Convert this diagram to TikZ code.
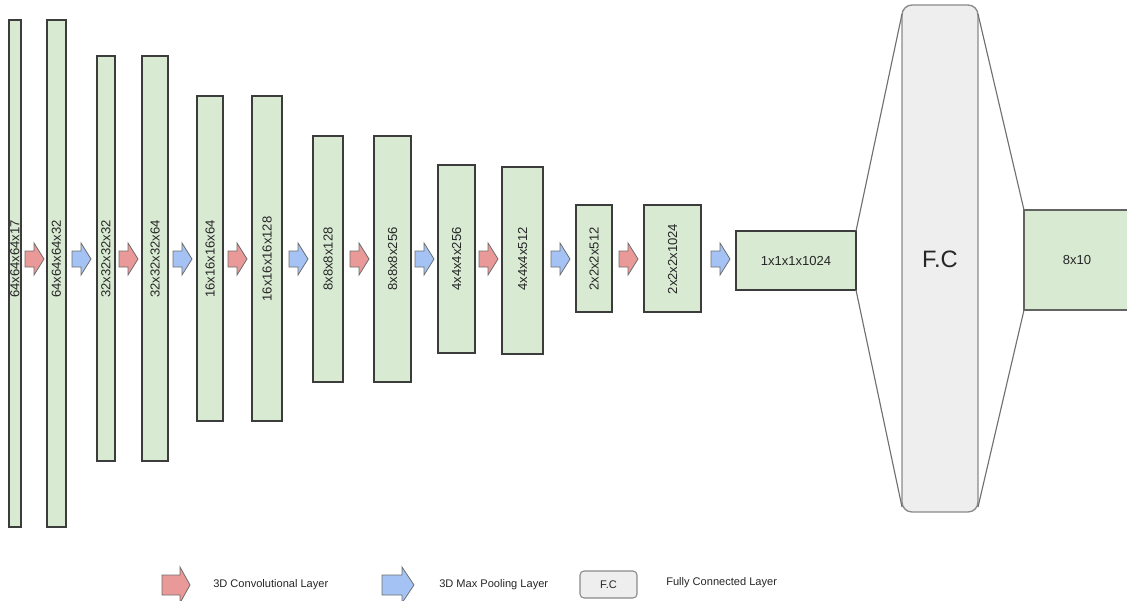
\documentclass[tikz,border=0pt]{standalone}
\usepackage{fontspec}
\setmainfont{Liberation Sans}
\usetikzlibrary{calc}
\definecolor{layerfill}{HTML}{D9EAD3}
\definecolor{layerdraw}{HTML}{3C3C3C}
\definecolor{convfill}{HTML}{EA9999}
\definecolor{poolfill}{HTML}{A4C2F4}
\definecolor{arrowdraw}{HTML}{6E6E6E}
\definecolor{fcfill}{HTML}{EEEEEE}
\definecolor{fcdraw}{HTML}{8A8A8A}
\definecolor{linkdraw}{HTML}{707070}
\tikzset{
  layerbox/.style={draw=layerdraw, fill=layerfill, line width=0.9pt, inner sep=0pt, outer sep=0pt},
  lab/.style={font=\fontsize{9.8}{11}\selectfont, inner sep=0pt, text=black!85},
  blockarr/.style={draw=arrowdraw, line width=0.6pt, line join=miter},
  conv/.style={fill=convfill},
  pool/.style={fill=poolfill},
  fcbox/.style={draw=fcdraw, fill=fcfill, line width=1pt, inner sep=0pt, outer sep=0pt},
  link/.style={draw=linkdraw, line width=0.85pt},
  legtext/.style={font=\fontsize{8.3}{10}\selectfont, inner sep=0pt, anchor=west, text=black!85},
}
\newcommand\layer[6]{%
  \node[layerbox, minimum width={(#4-#2)*0.75pt}, minimum height={(#5-#3)*0.75pt}]
    (#1) at ({(#2+#4)/2},{(#3+#5)/2}) {};
  \node[lab, rotate=90] (#1t) at ({(#2+#4)/2},259) {#6};}
% block arrow: name, style, x left, y centre, length, head length, shaft half, head half
\newcommand\blkarrow[8]{%
  \draw[blockarr,#2] (#3,#4-#7) -- (#3+#5-#6,#4-#7) -- (#3+#5-#6,#4-#8) -- (#3+#5,#4)
    -- (#3+#5-#6,#4+#8) -- (#3+#5-#6,#4+#7) -- (#3,#4+#7) -- cycle;
  \coordinate (#1) at (#3+#5/2,#4);}
\begin{document}
\begin{tikzpicture}[x=0.75pt,y=-0.75pt]
\useasboundingbox (0,0) rectangle (1127,600);
% layers
\layer{l1}{9}{20}{21}{527}{64x64x64x17}
\layer{l2}{47}{20}{66}{527}{64x64x64x32}
\layer{l3}{97}{56}{115}{461}{32x32x32x32}
\layer{l4}{142}{56}{168}{461}{32x32x32x64}
\layer{l5}{197}{96}{223}{421}{16x16x16x64}
\layer{l6}{252}{96}{282}{421}{16x16x16x128}
\layer{l7}{313}{136}{343}{382}{8x8x8x128}
\layer{l8}{374}{136}{411}{382}{8x8x8x256}
\layer{l9}{438}{165}{475}{353}{4x4x4x256}
\layer{l10}{502}{167}{543}{354}{4x4x4x512}
\layer{l11}{576}{205}{612}{312}{2x2x2x512}
\layer{l12}{644}{205}{701}{312}{2x2x2x1024}
\node[layerbox, minimum width=90pt, minimum height=44.25pt] (l13) at (796,260.5) {};
\node[lab] at (l13) {1x1x1x1024};
% arrows
\blkarrow{a1}{conv}{25}{259}{19}{10}{8}{16}
\blkarrow{a2}{pool}{72}{259}{19}{10}{8}{16}
\blkarrow{a3}{conv}{119}{259}{19}{10}{8}{16}
\blkarrow{a4}{pool}{173}{259}{19}{10}{8}{16}
\blkarrow{a5}{conv}{228}{259}{19}{10}{8}{16}
\blkarrow{a6}{pool}{289}{259}{19}{10}{8}{16}
\blkarrow{a7}{conv}{350}{259}{19}{10}{8}{16}
\blkarrow{a8}{pool}{415}{259}{19}{10}{8}{16}
\blkarrow{a9}{conv}{479}{259}{19}{10}{8}{16}
\blkarrow{a10}{pool}{551}{259}{19}{10}{8}{16}
\blkarrow{a11}{conv}{619}{259}{19}{10}{8}{16}
\blkarrow{a12}{pool}{711}{259}{19}{10}{8}{16}
% fully connected
\node[fcbox, rounded corners=7.5pt, minimum width=57pt, minimum height=380.25pt] (fc) at (940,258.5) {};
\node[font=\fontsize{17.8}{20}\selectfont, inner sep=0pt, text=black!85] at (940,259) {F.C};
\node[layerbox, draw=layerdraw!80, minimum width=79.5pt, minimum height=75pt] (out) at (1077,260) {};
\node[lab, font=\fontsize{9.8}{12}\selectfont] at (1077,260) {8x10};
\coordinate (fctl) at ([yshift=-6.75pt]fc.north west);
\coordinate (fcbl) at ([yshift=3.75pt]fc.south west);
\coordinate (fctr) at ([yshift=-6.75pt]fc.north east);
\coordinate (fcbr) at ([yshift=3.75pt]fc.south east);
\draw[link] (l13.north east) -- (fctl);
\draw[link] (l13.south east) -- (fcbl);
\draw[link] (fctr) -- (out.north west);
\draw[link] (fcbr) -- (out.south west);
% legend
\blkarrow{lg1}{conv}{162}{585}{28}{10}{10}{18}
\node[legtext] (lg1t) at (213,585) {3D Convolutional Layer};
\blkarrow{lg2}{pool}{382}{585}{32}{12}{10}{18}
\node[legtext] (lg2t) at (439,585) {3D Max Pooling Layer};
\node[fcbox, rounded corners=3pt, minimum width=42.75pt, minimum height=20.25pt, line width=0.8pt] (lg3) at (608.5,584.5) {};
\node[legtext, anchor=center] at (lg3) {F.C};
\node[legtext] (lg3t) at (666,583) {Fully Connected Layer};
\end{tikzpicture}
\end{document}
